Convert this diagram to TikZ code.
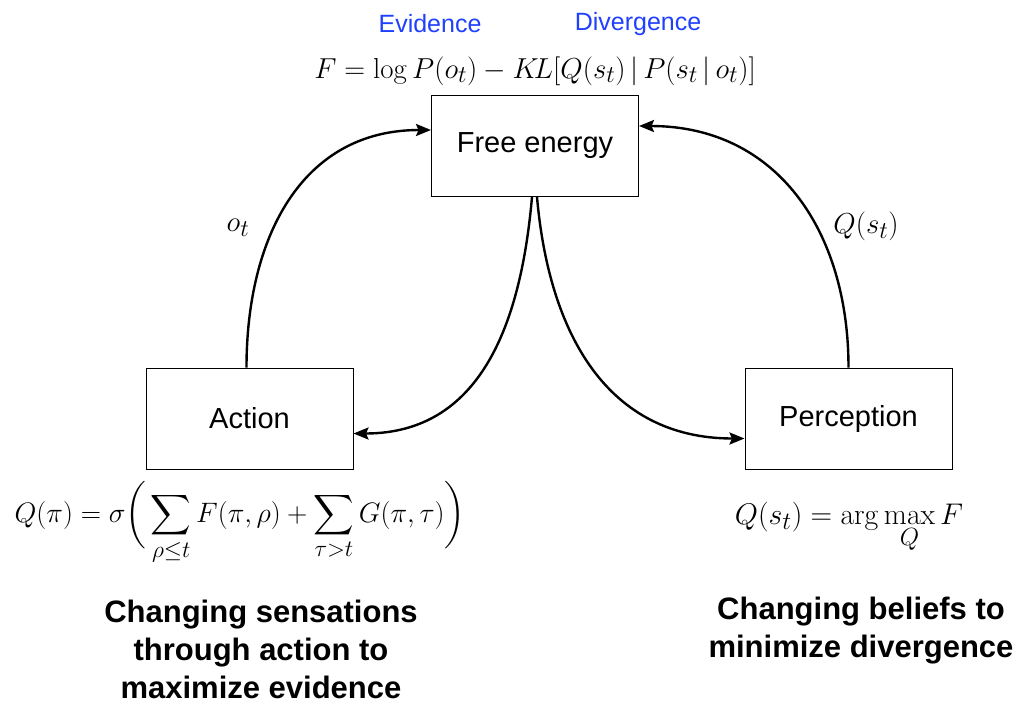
\documentclass[tikz,border=0pt]{standalone}
\usepackage{amsmath}
\usepackage{graphicx}
\usepackage[no-math]{fontspec}
\setmainfont{Liberation Sans}
\usetikzlibrary{arrows.meta}
\definecolor{noteblue}{RGB}{31,64,255}
\newcommand{\enlargedmath}[2][1.16]{\scalebox{#1}{$\displaystyle #2$}}
\tikzset{
	box/.style={draw, line width=1pt, minimum width=207pt, minimum height=101pt, font=\fontsize{29}{35}\selectfont},
	flow/.style={line width=2.4pt, -{Stealth[length=15pt,width=12pt,inset=2.5pt]}},
	note/.style={text=noteblue, font=\fontsize{25}{30}\selectfont},
	eqn/.style={font=\fontsize{24.88}{30}\selectfont},
	caption/.style={align=center, font=\fontsize{31}{38}\selectfont\bfseries}
}

\begin{document}
\begin{tikzpicture}[x=1pt, y=-1pt]
			%%%%% START %%%%%
			\useasboundingbox (0, 0) rectangle (1031, 713);
			
			\node[note] (evid) at (430, 24) {Evidence};
			\node[note] (diverg) at (638, 24) {Divergence};
			\node[eqn, anchor=base] (feq) at (535, 78) {\enlargedmath{F = \log P(o_t) - K\!L[Q(s_t)\,|\,P(s_t\,|\,o_t)]}};
			
			\node[box] (fe) at (535, 146) {Free energy};
			\node[box] (act) at (249.5, 418.5) {Action};
			\node[box] (perc) at (848.5, 418.5) {Perception};
			
			\draw[flow] ([xshift=-3pt]act.north) to[out=90, in=180, looseness=1.1] ([yshift=16pt]fe.west);
			\draw[flow] ([xshift=-3pt]fe.south) to[out=-95, in=0, looseness=1.1] ([yshift=-15pt]act.east);
			\draw[flow] ([xshift=2pt]fe.south) to[out=-85, in=180, looseness=1.1] ([yshift=-20pt]perc.west);
			\draw[flow] (perc.north) to[out=90, in=0, looseness=1.1] ([yshift=20pt]fe.east);
			
			\node[eqn] (obs) at (238, 228) {\enlargedmath{o_t}};
			\node[eqn] (belief) at (866, 226) {\enlargedmath{Q(s_t)}};
			
			\node[eqn, anchor=base] (policy) at (240, 522) {\enlargedmath[1.13]{Q(\pi) = \sigma\biggl(\,\sum_{\rho\leq t} F(\pi,\rho) + \sum_{\tau>t} G(\pi,\tau)\biggr)}};
			\node[eqn, anchor=base] (update) at (849, 524) {\enlargedmath[1.2]{Q(s_t) = \arg\max_{Q} F}};
			
			\node[caption] (actcap) at (261, 649) {Changing sensations\\through action to\\maximize evidence};
			\node[caption] (perccap) at (861, 631) {Changing beliefs to\\minimize divergence};
			%%%%% END %%%%%
\end{tikzpicture}
\end{document}
